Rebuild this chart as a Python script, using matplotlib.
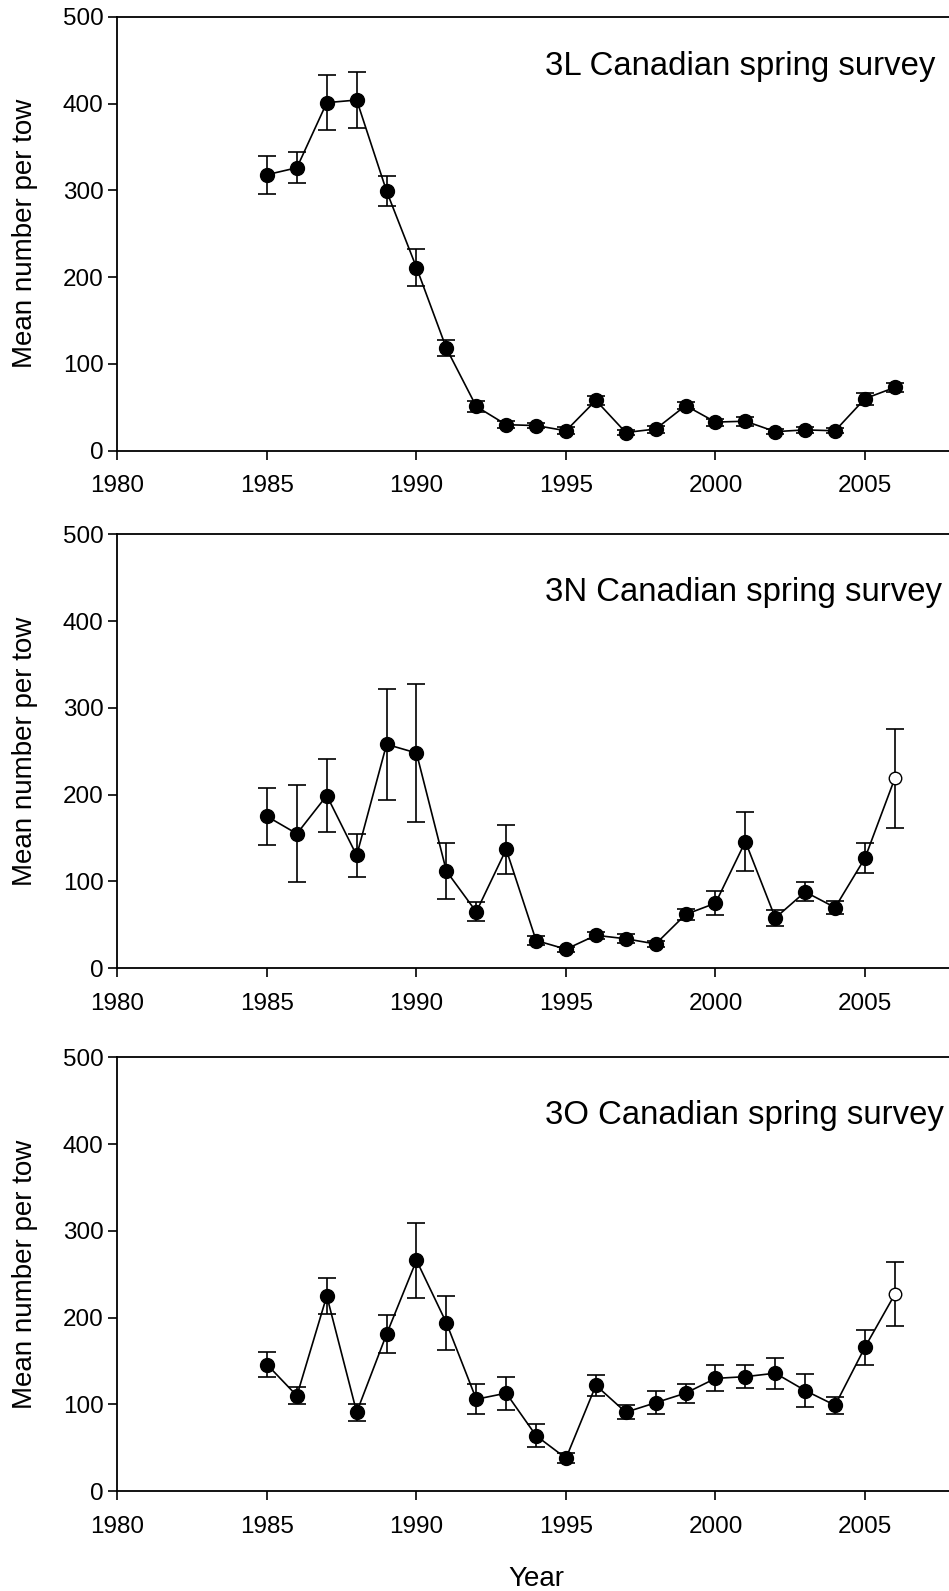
import numpy as np
import matplotlib.pyplot as plt

plt.rcParams['font.family'] = ['Liberation Sans', 'DejaVu Sans']

years = list(range(1985, 2007))

# 3L survey: mean number per tow and error bar half-widths
mean_3l = [318, 326, 401, 404, 299, 211, 118, 51, 30, 29, 23, 58,
           21, 25, 52, 33, 34, 22, 24, 23, 60, 73]
err_3l = [22, 18, 32, 32, 17, 21, 9, 6, 4, 3, 4, 5,
          3, 4, 4, 4, 5, 3, 3, 3, 7, 5]

# 3N survey
mean_3n = [175, 155, 199, 130, 258, 248, 112, 65, 137, 32, 22, 38,
           34, 28, 62, 75, 146, 58, 88, 70, 127, 219]
err_3n = [33, 56, 42, 25, 64, 80, 32, 11, 28, 5, 3, 4,
          5, 4, 6, 14, 34, 9, 11, 7, 17, 57]

# 3O survey
mean_3o = [146, 110, 225, 91, 181, 266, 194, 106, 113, 64, 38, 122,
           91, 102, 113, 130, 132, 136, 116, 99, 166, 227]
err_3o = [14, 10, 21, 10, 22, 43, 31, 17, 19, 13, 6, 12,
          8, 13, 11, 15, 13, 18, 19, 10, 20, 37]

titles = ["3L Canadian spring survey", "3N Canadian spring survey",
          "3O Canadian spring survey"]
# last year is shown as an open symbol in 3N and 3O
open_last = [False, True, True]

fig = plt.figure(figsize=(9.49, 15.91), dpi=100)
bottoms = [0.7167, 0.3914, 0.0627]
title_y = [443, 433, 433]

for k, (mean, err) in enumerate([(mean_3l, err_3l), (mean_3n, err_3n), (mean_3o, err_3o)]):
    ax = fig.add_axes([0.1238, bottoms[k], 0.8822, 0.2728])
    x = np.array(years)
    y = np.array(mean, dtype=float)
    e = np.array(err, dtype=float)

    ax.errorbar(x, y, yerr=e, fmt='none', ecolor='black', elinewidth=1.2,
                capsize=6.3, capthick=1.2, zorder=2)
    ax.plot(x, y, color='black', lw=1.2, zorder=3)
    if open_last[k]:
        ax.plot(x[:-1], y[:-1], 'o', color='black', ms=10, zorder=4)
        ax.plot(x[-1:], y[-1:], 'o', mfc='white', mec='black', mew=1.0, ms=9, zorder=4)
    else:
        ax.plot(x, y, 'o', color='black', ms=10, zorder=4)

    ax.set_xlim(1980, 2008)
    ax.set_ylim(0, 500)
    ax.set_xticks(range(1980, 2006, 5))
    ax.set_yticks(range(0, 501, 100))
    ax.tick_params(axis='both', direction='out', length=6.5, width=1.2,
                   labelsize=17.5)
    ax.tick_params(axis='x', pad=11)
    ax.tick_params(axis='y', pad=3.5)
    for sp in ax.spines.values():
        sp.set_linewidth(1.3)

    ax.set_ylabel("Mean number per tow", fontsize=20)
    ax.yaxis.set_label_coords(-0.095, 0.5)
    ax.text(1994.3, title_y[k], titles[k], fontsize=23.7, ha='left', va='center')

fig.text(536.4 / 949, 1 - 1586 / 1591, "Year", fontsize=20, ha='center', va='baseline')

fig.savefig("out.png", dpi=100)
